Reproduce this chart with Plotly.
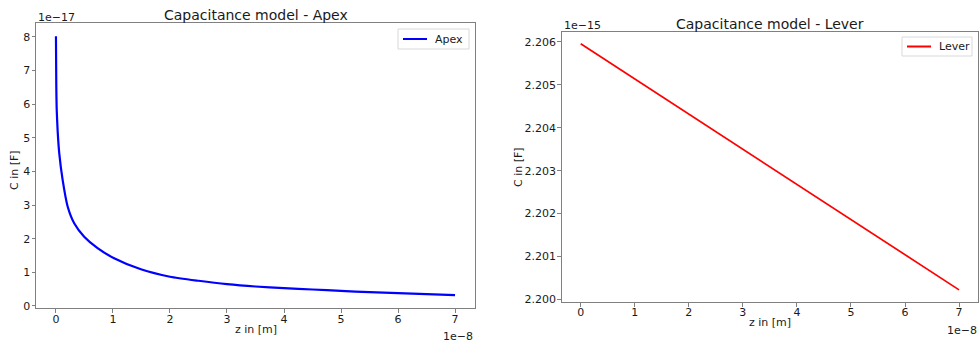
import plotly.graph_objects as go

# ---- data (z in units of 1e-8 m, C in units of 1e-17 F / 1e-15 F) ----
z_apex = [0, 0.006, 0.012, 0.03, 0.058, 0.117, 0.205, 0.32, 0.495, 0.73, 1.02, 1.49,
          2, 2.5, 3, 3.5, 4, 4.5, 5, 5.5, 6, 6.5, 7]
c_apex = [8.02, 6.53, 5.9, 5.2, 4.54, 3.75, 2.96, 2.46, 2.06, 1.72, 1.42, 1.09,
          0.87, 0.75, 0.65, 0.58, 0.53, 0.49, 0.45, 0.41, 0.38, 0.35, 0.32]
z_lever = [0, 1, 2, 3, 4, 5, 6, 7]
c_lever = [2.20596, 2.20514, 2.20432, 2.20350, 2.20268, 2.20186, 2.20104, 2.20022]
x_ticks = [0, 1, 2, 3, 4, 5, 6, 7]
apex_yticks = [0, 1, 2, 3, 4, 5, 6, 7, 8]
lever_yticks = [2.200, 2.201, 2.202, 2.203, 2.204, 2.205, 2.206]

W, H = 980, 342
FONT = "DejaVu Sans"
TXT = "#1a1a1a"
SPINE = "#808080"
FS = 11

def px(x):
    return x / W

def py(y):
    return 1 - y / H

fig = go.Figure()
fig.add_trace(go.Scatter(x=z_apex, y=c_apex, mode="lines", name="Apex",
                         line=dict(color="#0000ff", width=2.2, shape="spline", smoothing=0.6),
                         xaxis="x", yaxis="y", showlegend=False))
fig.add_trace(go.Scatter(x=z_lever, y=c_lever, mode="lines", name="Lever",
                         line=dict(color="#ff0000", width=1.7),
                         xaxis="x2", yaxis="y2", showlegend=False))

axcommon = dict(showline=True, mirror=True, linecolor=SPINE, linewidth=1,
                ticks="outside", ticklen=3.5, tickcolor=SPINE, showgrid=False,
                zeroline=False, automargin=False,
                tickfont=dict(family=FONT, size=FS, color=TXT))

L = (36, 23, 475, 308)
R = (561.8, 31.7, 978, 302.3)

fig.update_layout(
    width=W, height=H, margin=dict(l=0, r=0, t=0, b=0, pad=0, autoexpand=False),
    autosize=False,
    paper_bgcolor="white", plot_bgcolor="white",
    font=dict(family=FONT, color=TXT),
    xaxis=dict(domain=[px(L[0]), px(L[2])], range=[-0.35, 7.35], tickvals=x_ticks,
               anchor="y", ticklabelstandoff=-3, **axcommon),
    yaxis=dict(domain=[py(L[3]), py(L[1])], range=[-0.06, 8.416], tickvals=apex_yticks,
               anchor="x", ticklabelstandoff=-1, **axcommon),
    xaxis2=dict(domain=[px(R[0]), px(R[2])], range=[-0.35, 7.35], tickvals=x_ticks,
                anchor="y2", ticklabelstandoff=-4, **axcommon),
    yaxis2=dict(domain=[py(R[3]), py(R[1])], range=[2.19993, 2.20624], tickvals=lever_yticks,
                tickformat=".3f", anchor="x2", ticklabelstandoff=-1, **axcommon),
    showlegend=False,
)

def ann(text, x, y, size=FS, xanchor="center", yanchor="middle", angle=0):
    fig.add_annotation(text=text, x=px(x), y=py(y), xref="paper", yref="paper",
                       showarrow=False, xanchor=xanchor, yanchor=yanchor, textangle=angle,
                       font=dict(family=FONT, size=size, color=TXT))

# titles
ann("Capacitance model - Apex", (L[0] + L[2]) / 2, 15.5, size=14)
ann("Capacitance model - Lever", (R[0] + R[2]) / 2, 24, size=14)
# offset texts
ann("1e\u221217", 36, 17.5, xanchor="left")
ann("1e\u221215", 561.5, 26, xanchor="left")
ann("1e\u22128", 474.5, 336, xanchor="right")
ann("1e\u22128", 978.5, 330.5, xanchor="right")
# axis labels
ann("z in [m]", 255.5, 329.5)
ann("z in [m]", 770, 322)
ann("C in [F]", 15, 170, angle=-90)
ann("C in [F]", 518, 167, angle=-90)

# legends (box, line sample, label)
def legend(box, color, label):
    x0, y0, x1, y1 = box
    fig.add_shape(type="rect", xref="paper", yref="paper",
                  x0=px(x0), x1=px(x1), y0=py(y1), y1=py(y0),
                  line=dict(color="#d9d9d9", width=1), fillcolor="rgba(255,255,255,0.8)",
                  layer="above")
    ym = (y0 + y1) / 2
    fig.add_shape(type="line", xref="paper", yref="paper",
                  x0=px(x0 + 5), x1=px(x0 + 29), y0=py(ym), y1=py(ym),
                  line=dict(color=color, width=2), layer="above")
    ann(label, x0 + 35, ym, xanchor="left")

legend((398, 29, 469, 49), "#0000ff", "Apex")
legend((902, 37, 972, 56), "#ff0000", "Lever")

fig.write_html("out.html")
